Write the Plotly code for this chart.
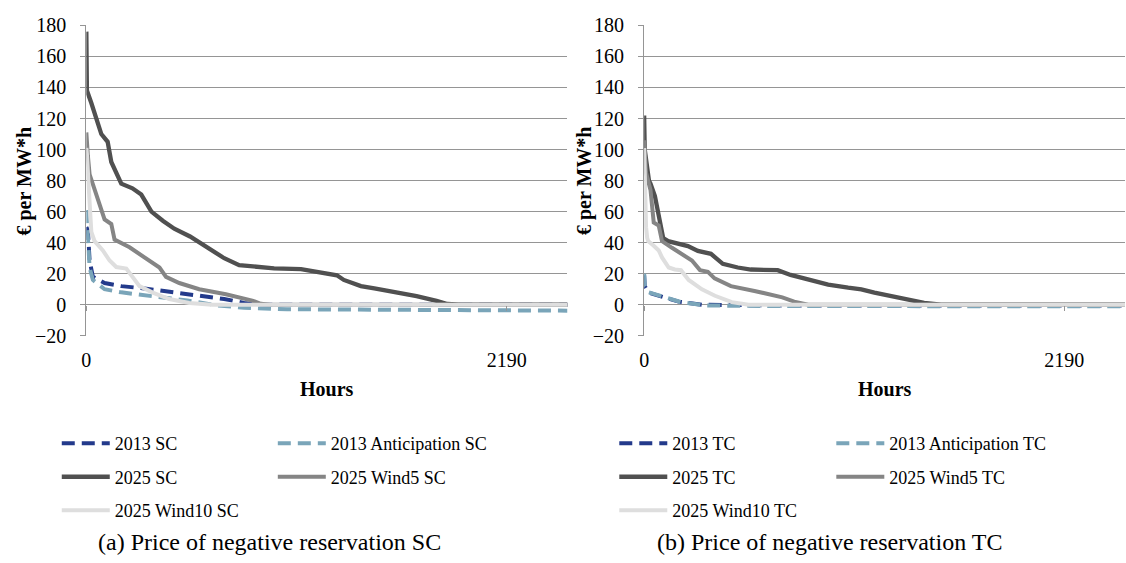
import plotly.graph_objects as go

W, H = 1126, 563
X_MAX = 2506
X_TICKS = [0, 2190]
Y_TICKS = [-20, 0, 20, 40, 60, 80, 100, 120, 140, 160, 180]

# ---------------- SC (left panel) ----------------
sc_2013_h = [0, 8, 17, 34, 95, 182, 303, 441, 578, 718, 822, 900, 2506]
sc_2013_v = [50, 48, 28.5, 18, 14, 12, 10.5, 8.3, 6.2, 3.7, 1.2, 0, 0]

sc_2013ant_h = [0, 5, 17, 34, 95, 182, 355, 526, 682, 822, 1045, 1600, 2100, 2506]
sc_2013ant_v = [61, 50, 24, 16, 10, 8, 5.6, 2.7, -0.4, -1.9, -2.9, -3.2, -3.5, -3.8]

sc_2025_h = [0, 1, 3, 26, 52, 78, 111, 130, 182, 240, 286, 312, 339, 400, 458, 540,
             614, 718, 796, 900, 978, 1118, 1200, 1305, 1341, 1430, 1500, 1585, 1720,
             1824, 1880, 1950, 2506]
sc_2025_v = [176, 140, 138, 130, 120, 110, 105, 92, 78, 75, 71, 66, 60, 54, 49, 44,
             38, 30, 25.5, 24, 23.5, 23, 21, 19, 16, 12, 10.5, 8.7, 5.5,
             2.5, 0.5, 0, 0]

sc_wind5_h = [0, 3, 8, 17, 43, 69, 95, 130, 147, 225, 303, 381, 415, 484, 588, 727,
              864, 909, 960, 2506]
sc_wind5_v = [111, 100, 96, 84, 74, 65, 55, 52, 42, 37, 30.5, 24, 18, 14, 10, 6.8,
              2.7, 0.6, 0, 0]

sc_wind10_h = [0, 3, 17, 26, 43, 86, 121, 156, 208, 242, 277, 346, 432, 536, 656, 2506]
sc_wind10_v = [101, 97, 66, 47, 41, 35, 28.5, 24.3, 23.3, 18, 12, 7.8, 3.7, 1.2, 0, 0]

# ---------------- TC (right panel) ----------------
tc_2013_h = [0, 3, 24, 76, 180, 301, 700, 2506]
tc_2013_v = [19, 12, 7.8, 5.8, 2, 0, -0.4, -0.5]

tc_2013ant_h = [0, 3, 24, 107, 192, 315, 600, 2506]
tc_2013ant_v = [20, 12, 8, 4.8, 1.7, -0.4, -0.8, -1]

tc_2025_h = [0, 3, 25, 33, 56, 82, 99, 125, 228, 280, 348, 410, 488, 556, 696, 763,
             855, 959, 1063, 1132, 1200, 1374, 1459, 1547, 2506]
tc_2025_v = [122, 100, 80, 78, 70, 55, 43, 41, 37.8, 34.7, 32.8, 26.4, 24, 22.7, 22.3,
             19.2, 16, 13, 11, 9.9, 7.8, 3.3, 1.2, 0, 0]

tc_wind5_h = [0, 3, 10, 33, 45, 50, 76, 93, 145, 197, 249, 291, 332, 367, 452, 575,
              659, 720, 782, 855, 2506]
tc_wind5_v = [106, 100, 85, 74, 55, 53, 51, 41, 36.7, 32.6, 28.5, 22.3, 21.2, 17, 12,
              8.9, 6.2, 4.8, 2, 0, 0]

tc_wind10_h = [0, 5, 10, 16, 21, 50, 76, 93, 128, 160, 192, 232, 301, 369, 457, 544, 2506]
tc_wind10_v = [101, 70, 50, 43, 41, 38, 35, 30.5, 24, 22.7, 22.3, 16, 9.9, 5.8, 1.7, 0, 0]

SC_NAMES = ["2013 SC", "2013 Anticipation SC", "2025 SC", "2025 Wind5 SC", "2025 Wind10 SC"]
TC_NAMES = ["2013 TC", "2013 Anticipation TC", "2025 TC", "2025 Wind5 TC", "2025 Wind10 TC"]
CAPTIONS = ["(a) Price of negative reservation SC", "(b) Price of negative reservation TC"]
Y_TITLE = "€ per MW*h"
X_TITLE = "Hours"

COLORS = ["#233a8b", "#7aa5b9", "#505050", "#858585", "#dedede"]
DASHES = ["13px,7px", "13px,7px", "solid", "solid", "solid"]
WIDTHS = [4, 4, 4.3, 4, 4]

FONT = "Liberation Serif, Times New Roman, serif"
GRID = "#959595"


def px(x):
    return x / W


def py(y):
    return 1 - y / H


# layout geometry (pixels)
L_X0, L_X1 = 81.7, 565
R_X0, R_X1 = 642, 1125
P_TOP, P_BOT = 15, 338
Y_DOM = [py(P_BOT), py(P_TOP)]

fig = go.Figure()

sc_data = [(sc_2013_h, sc_2013_v), (sc_2013ant_h, sc_2013ant_v), (sc_2025_h, sc_2025_v),
           (sc_wind5_h, sc_wind5_v), (sc_wind10_h, sc_wind10_v)]
tc_data = [(tc_2013_h, tc_2013_v), (tc_2013ant_h, tc_2013ant_v), (tc_2025_h, tc_2025_v),
           (tc_wind5_h, tc_wind5_v), (tc_wind10_h, tc_wind10_v)]

# legend column assignment: items 0,2,4 -> column 1 ; items 1,3 -> column 2
col_of = [0, 1, 0, 1, 0]
for panel, (data, names, xa, ya, legs) in enumerate([
        (sc_data, SC_NAMES, "x", "y", ["legend", "legend2"]),
        (tc_data, TC_NAMES, "x2", "y2", ["legend3", "legend4"])]):
    for i, ((hx, vy), nm) in enumerate(zip(data, names)):
        fig.add_trace(go.Scatter(
            x=hx, y=vy, name=nm, mode="lines",
            line=dict(color=COLORS[i], width=WIDTHS[i], dash=DASHES[i]),
            xaxis=xa, yaxis=ya, legend=legs[col_of[i]],
            legendgroup=f"p{panel}_{i}", hoverinfo="skip"))

# dummy traces for the zero-line tick axes
fig.add_trace(go.Scatter(x=[None], y=[None], xaxis="x3", yaxis="y", showlegend=False, hoverinfo="skip"))
fig.add_trace(go.Scatter(x=[None], y=[None], xaxis="x4", yaxis="y2", showlegend=False, hoverinfo="skip"))

zero_pos = Y_DOM[0] + (0 - (-20)) / 200 * (Y_DOM[1] - Y_DOM[0])

xcommon = dict(range=[0, X_MAX], tickvals=X_TICKS, showgrid=False, zeroline=False,
               showline=False, ticks="", ticklabelstandoff=10,
               tickfont=dict(family=FONT, size=20, color="#000"))
ycommon = dict(range=[-20, 180], tickvals=Y_TICKS, showgrid=True, gridcolor=GRID,
               gridwidth=1.3, zeroline=False, showline=True, linecolor=GRID, linewidth=1.3,
               ticks="outside", ticklen=5, tickcolor=GRID, tickwidth=1.3,
               ticklabelstandoff=10, tickfont=dict(family=FONT, size=20, color="#000"))
tickax = dict(range=[0, X_MAX], tickvals=X_TICKS, showgrid=False, zeroline=False,
              showline=False, ticks="outside", ticklen=5, tickcolor=GRID, tickwidth=1.3,
              showticklabels=False, anchor="free", position=zero_pos, side="bottom")

legend_common = dict(orientation="v", xanchor="left", yanchor="top", bgcolor="rgba(0,0,0,0)",
                     font=dict(family=FONT, size=18, color="#000"), itemwidth=48,
                     tracegroupgap=7, borderwidth=0, itemclick=False, itemdoubleclick=False)

fig.update_layout(
    width=W, height=H, margin=dict(l=0, r=0, t=0, b=0),
    paper_bgcolor="white", plot_bgcolor="white", showlegend=True,
    xaxis=dict(domain=[px(L_X0), px(L_X1)], anchor="y", **xcommon),
    yaxis=dict(domain=Y_DOM, anchor="x", **ycommon),
    xaxis2=dict(domain=[px(R_X0), px(R_X1)], anchor="y2", **xcommon),
    yaxis2=dict(domain=Y_DOM, anchor="x2", **ycommon),
    xaxis3=dict(overlaying="x", **tickax),
    xaxis4=dict(overlaying="x2", **tickax),
    legend=dict(x=px(52), y=py(431), **legend_common),
    legend2=dict(x=px(269), y=py(431), **legend_common),
    legend3=dict(x=px(612), y=py(431), **legend_common),
    legend4=dict(x=px(830), y=py(431), **legend_common),
)

annots = []
for cx in [(L_X0 + L_X1) / 2, (R_X0 + R_X1) / 2]:
    annots.append(dict(text=f"<b>{X_TITLE}</b>", x=px(cx), y=py(393), xref="paper", yref="paper",
                       showarrow=False, xanchor="center", yanchor="middle",
                       font=dict(family=FONT, size=20, color="#000")))
for cx in [20, 582]:
    annots.append(dict(text=f"<b>{Y_TITLE}</b>", x=px(cx), y=py((P_TOP + P_BOT) / 2), xref="paper",
                       yref="paper", showarrow=False, textangle=-90, xanchor="center",
                       yanchor="middle", font=dict(family=FONT, size=20, color="#000")))
for cx, cap in zip([266, 828], CAPTIONS):
    annots.append(dict(text=cap, x=px(cx), y=py(553), xref="paper", yref="paper",
                       showarrow=False, xanchor="center", yanchor="middle",
                       font=dict(family=FONT, size=24, color="#000")))
fig.update_layout(annotations=annots)

fig.write_html("out.html")
